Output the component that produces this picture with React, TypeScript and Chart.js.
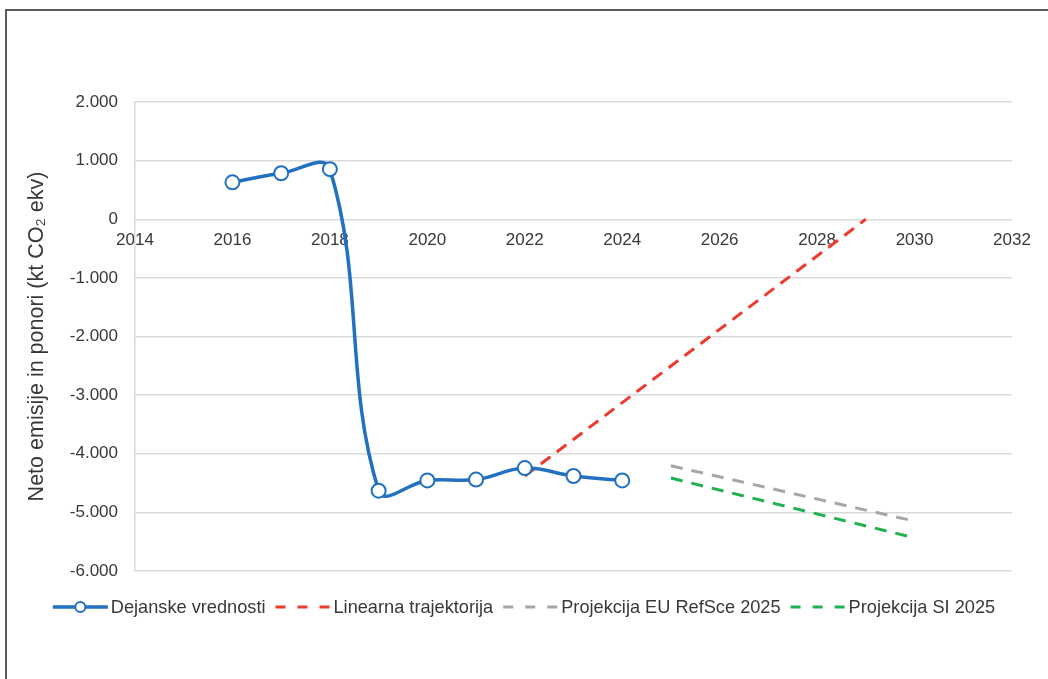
import { useEffect, useRef } from "react";
import { Chart, registerables } from "chart.js";

Chart.register(...registerables);

// ---- Data ----
const actualYears = [2016, 2017, 2018, 2019, 2020, 2021, 2022, 2023, 2024];
const actualValues = [630, 785, 855, -4630, -4455, -4440, -4245, -4380, -4455];

const linearYears = [2022, 2029];
const linearValues = [-4380, 0];

const euYears = [2025, 2030];
const euValues = [-4205, -5150];

const siYears = [2025, 2030];
const siValues = [-4415, -5435];

const seriesLabels = [
  "Dejanske vrednosti",
  "Linearna trajektorija",
  "Projekcija EU RefSce 2025",
  "Projekcija SI 2025",
];

const yAxisTitle = "Neto emisije in ponori (kt CO₂ ekv)";

const xMin = 2014;
const xMax = 2032;
const xStep = 2;
const yMin = -6000;
const yMax = 2000;
const yStep = 1000;

const FONT = '"Liberation Sans", Arial, Helvetica, sans-serif';
const TEXT = "#383838";
const GRID = "#D9D9D9";

const BLUE = "#2270C0";
const RED = "#EE3A2C";
const GRAY = "#A6A6A6";
const GREEN = "#1FB04F";

const toPoints = (xs: number[], ys: number[]) => xs.map((x, i) => ({ x, y: ys[i] }));

const formatThousands = (v: number) => {
  const s = Math.abs(v)
    .toString()
    .replace(/\B(?=(\d{3})+(?!\d))/g, ".");
  return (v < 0 ? "-" : "") + s;
};

const legendPlugin = {
  id: "customLegend",
  afterDraw(chart: any) {
    const ctx = chart.ctx as CanvasRenderingContext2D;
    ctx.save();
    ctx.font = `18.2px ${FONT}`;
    const symW = 55;
    const gapT = 3;
    const gapI = 10;
    const items = chart.data.datasets.map((ds: any) => ({
      label: ds.label as string,
      color: ds.borderColor as string,
      dashed: Array.isArray(ds.borderDash) && ds.borderDash.length > 0,
      marker: (ds.pointRadius ?? 0) > 0,
    }));
    const widths = items.map((it: any) => ctx.measureText(it.label).width);
    let total = 0;
    items.forEach((_: any, i: number) => {
      total += symW + gapT + widths[i];
    });
    total += gapI * (items.length - 1);
    let x = (chart.width - total) / 2;
    const y = 607;
    items.forEach((it: any, i: number) => {
      ctx.beginPath();
      ctx.lineWidth = it.marker ? 3.5 : 3;
      ctx.strokeStyle = it.color;
      ctx.setLineDash(it.dashed ? [10, 12] : []);
      ctx.moveTo(x, y);
      ctx.lineTo(x + symW, y);
      ctx.stroke();
      ctx.setLineDash([]);
      if (it.marker) {
        ctx.beginPath();
        ctx.arc(x + symW / 2, y, 5, 0, Math.PI * 2);
        ctx.fillStyle = "#ffffff";
        ctx.fill();
        ctx.lineWidth = 2;
        ctx.strokeStyle = it.color;
        ctx.stroke();
      }
      ctx.fillStyle = TEXT;
      ctx.textBaseline = "middle";
      ctx.textAlign = "left";
      ctx.fillText(it.label, x + symW + gapT, y + 1);
      x += symW + gapT + widths[i] + gapI;
    });
    ctx.restore();
  },
};

export default function App() {
  const canvasRef = useRef<HTMLCanvasElement | null>(null);

  useEffect(() => {
    if (!canvasRef.current) return;
    const chart = new Chart(canvasRef.current, {
      type: "line",
      data: {
        datasets: [
          {
            label: seriesLabels[0],
            data: toPoints(actualYears, actualValues),
            borderColor: BLUE,
            borderWidth: 3.5,
            tension: 0.4,
            pointRadius: 7,
            pointBackgroundColor: "#ffffff",
            pointBorderColor: BLUE,
            pointBorderWidth: 2,
            order: 0,
          },
          {
            label: seriesLabels[1],
            data: toPoints(linearYears, linearValues),
            borderColor: RED,
            borderWidth: 3,
            borderDash: [12, 8],
            pointRadius: 0,
            order: 1,
          },
          {
            label: seriesLabels[2],
            data: toPoints(euYears, euValues),
            borderColor: GRAY,
            borderWidth: 3,
            borderDash: [12, 9],
            pointRadius: 0,
            order: 2,
          },
          {
            label: seriesLabels[3],
            data: toPoints(siYears, siValues),
            borderColor: GREEN,
            borderWidth: 3,
            borderDash: [12, 9],
            pointRadius: 0,
            order: 3,
          },
        ],
      },
      options: {
        animation: false,
        responsive: false,
        devicePixelRatio: 1,
        layout: { padding: { top: 102, right: 36, bottom: 108, left: 0 } },
        plugins: {
          legend: { display: false },
          tooltip: { enabled: false },
        },
        scales: {
          x: {
            type: "linear",
            position: { y: 0 } as any,
            min: xMin,
            max: xMax,
            grid: { display: false, drawTicks: false },
            border: { display: false },
            ticks: {
              stepSize: xStep,
              padding: 11,
              color: TEXT,
              font: { family: FONT, size: 17 },
              callback: (v: any) => String(v),
              maxRotation: 0,
            },
          },
          y: {
            type: "linear",
            min: yMin,
            max: yMax,
            afterFit: (scale: any) => {
              scale.width = 135;
            },
            grid: { color: GRID, lineWidth: 1.5, drawTicks: false },
            border: { display: true, color: GRID, width: 1.5 },
            ticks: {
              stepSize: yStep,
              padding: 17,
              color: TEXT,
              font: { family: FONT, size: 17 },
              callback: (v: any) => formatThousands(Number(v)),
            },
            title: {
              display: true,
              text: yAxisTitle,
              color: TEXT,
              font: { family: FONT, size: 21.5 },
              padding: { top: 24, bottom: 0 },
            },
          },
        },
      },
      plugins: [legendPlugin],
    });
    return () => chart.destroy();
  }, []);

  return (
    <div
      style={{
        position: "absolute",
        left: 0,
        top: 0,
        width: 1048,
        height: 679,
        background: "#ffffff",
        overflow: "hidden",
      }}
    >
      <div
        style={{
          position: "absolute",
          left: 5,
          top: 9,
          right: -2,
          bottom: -2,
          borderLeft: "2px solid #5a5a5a",
          borderTop: "2px solid #5a5a5a",
        }}
      />
      <canvas
        ref={canvasRef}
        width={1048}
        height={679}
        style={{ position: "absolute", left: 0, top: 0, width: 1048, height: 679 }}
      />
    </div>
  );
}
